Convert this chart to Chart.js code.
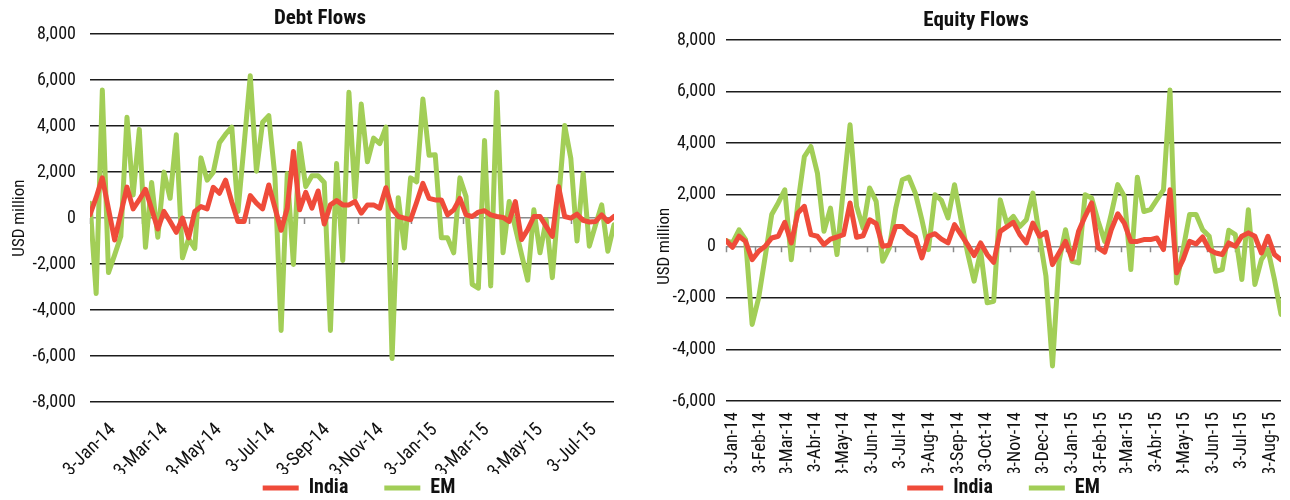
<!DOCTYPE html>
<html>
<head>
<meta charset="utf-8">
<script src="https://cdn.jsdelivr.net/npm/chart.js@4.4.0/dist/chart.umd.min.js"></script>
<style>
html,body{margin:0;padding:0;background:#fff;overflow:hidden;width:1290px;height:500px}
#wrap{position:relative;width:1290px;height:500px;overflow:hidden;background:#fff}
.box{position:absolute;top:0}
#b1{left:0;width:640px;height:540px}
#b2{left:650px;width:640px;height:539px}
canvas{display:block}
</style>
</head>
<body>
<div id="wrap">
  <div class="box" id="b1"><canvas id="c1" width="640" height="540"></canvas></div>
  <div class="box" id="b2"><canvas id="c2" width="640" height="539"></canvas></div>
</div>
<script>
// Weekly observation dates
const weeks = [
 '2014-01-03','2014-01-10','2014-01-17','2014-01-24','2014-01-31',
 '2014-02-07','2014-02-14','2014-02-21','2014-02-28',
 '2014-03-07','2014-03-14','2014-03-21','2014-03-28',
 '2014-04-04','2014-04-11','2014-04-18','2014-04-25',
 '2014-05-02','2014-05-09','2014-05-16','2014-05-23','2014-05-30',
 '2014-06-06','2014-06-13','2014-06-20','2014-06-27',
 '2014-07-04','2014-07-11','2014-07-18','2014-07-25',
 '2014-08-01','2014-08-08','2014-08-15','2014-08-22','2014-08-29',
 '2014-09-05','2014-09-12','2014-09-19','2014-09-26',
 '2014-10-03','2014-10-10','2014-10-17','2014-10-24','2014-10-31',
 '2014-11-07','2014-11-14','2014-11-21','2014-11-28',
 '2014-12-05','2014-12-12','2014-12-19','2014-12-26',
 '2015-01-02','2015-01-09','2015-01-16','2015-01-23','2015-01-30',
 '2015-02-06','2015-02-13','2015-02-20','2015-02-27',
 '2015-03-06','2015-03-13','2015-03-20','2015-03-27',
 '2015-04-03','2015-04-10','2015-04-17','2015-04-24',
 '2015-05-01','2015-05-08','2015-05-15','2015-05-22','2015-05-29',
 '2015-06-05','2015-06-12','2015-06-19','2015-06-26',
 '2015-07-03','2015-07-10','2015-07-17','2015-07-24','2015-07-31',
 '2015-08-07','2015-08-14','2015-08-21'
];

// Debt flows (USD million)
const debtIndia = [150,900,1750,400,-950,200,1350,400,800,1250,400,-475,290,-150,-620,0,-860,290,500,400,
 1340,1080,1650,700,-145,-145,980,650,400,1440,450,-530,430,2900,360,1120,430,1180,-260,575,
 760,575,575,720,215,575,575,430,1320,400,70,0,-70,700,1510,860,790,790,140,360,
 860,140,70,260,320,140,70,30,-145,720,-935,-500,70,70,-360,-790,1370,70,0,170,
 -100,-170,-145,140,-145,70];
const debtEM = [650,-3280,5570,-2370,-1600,-790,4390,1000,3860,-1270,1550,-835,2000,860,3630,-1730,-900,-1320,2620,1650,
 2000,3280,3650,3960,290,3200,6190,2040,4170,4460,1800,-4890,1940,-2015,3240,1370,1840,1840,1550,-4890,
 2370,-1840,5470,890,4960,2450,3480,3240,3960,-6110,890,-1300,1750,1580,5180,2730,2760,-860,-860,-1510,
 1750,935,-2880,-3050,3380,-2950,5470,-1510,720,-430,-1580,-2700,360,-1510,-70,-2590,720,4030,2590,-1000,
 1940,-1220,-300,575,-1440,-290];

// Equity flows (USD million)
const eqIndia = [220,-40,390,190,-520,-190,0,320,390,930,130,1290,1550,450,390,65,280,360,450,1680,
 350,410,1030,880,0,40,770,770,520,360,-450,390,490,280,130,840,450,65,-360,130,
 -320,-620,580,750,930,450,130,900,390,540,-710,-260,190,-490,580,1160,1680,-65,-230,640,
 1260,900,190,190,260,260,320,-130,2190,-1030,-520,190,90,360,-130,-260,-320,130,0,390,
 520,390,-260,390,-320,-520];
const eqEM = [220,130,640,260,-3030,-2000,-400,1230,1680,2190,-520,1650,3480,3870,2840,580,1480,-320,2300,4710,
 1550,710,2260,1740,-580,-65,1480,2580,2680,2060,1030,-130,2000,1780,1100,2390,1030,-260,-1350,-190,
 -2190,-2130,1800,900,1160,770,1030,2060,400,-1160,-4640,-580,640,-580,-645,2000,1870,970,190,1250,
 2390,1940,-900,2680,1350,1420,1810,2190,6060,-1420,-130,1230,1230,640,390,-970,-900,620,450,-1290,
 1420,-1480,-520,-130,-1290,-2640];

// Axis tick dates and labels
const debtTickDates = ['2014-01-03','2014-03-03','2014-05-03','2014-07-03','2014-09-03','2014-11-03',
 '2015-01-03','2015-03-03','2015-05-03','2015-07-03'];
const debtTickLabels = ['3-Jan-14','3-Mar-14','3-May-14','3-Jul-14','3-Sep-14','3-Nov-14',
 '3-Jan-15','3-Mar-15','3-May-15','3-Jul-15'];
const eqTickDates = ['2014-01-03','2014-02-03','2014-03-03','2014-04-03','2014-05-03','2014-06-03','2014-07-03',
 '2014-08-03','2014-09-03','2014-10-03','2014-11-03','2014-12-03','2015-01-03','2015-02-03','2015-03-03',
 '2015-04-03','2015-05-03','2015-06-03','2015-07-03','2015-08-03'];
const eqTickLabels = ['3-Jan-14','3-Feb-14','3-Mar-14','3-Abr-14','3-May-14','3-Jun-14','3-Jul-14',
 '3-Aug-14','3-Sep-14','3-Oct-14','3-Nov-14','3-Dec-14','3-Jan-15','3-Feb-15','3-Mar-15',
 '3-Abr-15','3-May-15','3-Jun-15','3-Jul-15','3-Aug-15'];

const seriesNames = ['India','EM'];

const RED = '#EF4B3A';
const GREEN = '#A2CE57';
const FONT = "'Roboto Condensed','Open Sans',sans-serif";

const t0 = Date.parse(weeks[0]);
const dayOf = s => (Date.parse(s) - t0) / 864e5;
const lastDay = dayOf(weeks[weeks.length - 1]);
const pts = arr => arr.map((v, i) => ({x: dayOf(weeks[i]), y: v}));

const axisDecor = {
  id: 'axisDecor',
  afterLayout(chart, args, opts) {
    const lg = chart.legend;
    if (lg && opts.legendTop != null) {
      const dy = opts.legendTop - lg.top;
      lg.top += dy; lg.bottom += dy;
      lg.left += opts.legendDx; lg.right += opts.legendDx;
    }
  },
  beforeDatasetsDraw(chart, args, opts) {
    const {ctx} = chart;
    const x = chart.scales.x, y = chart.scales.y;
    const y0 = y.getPixelForValue(0);
    ctx.save();
    ctx.strokeStyle = '#8a8a8a';
    ctx.lineWidth = 1.5;
    ctx.beginPath();
    x.ticks.forEach(t => {
      const px = Math.round(x.getPixelForValue(t.value)) + 0.5;
      ctx.moveTo(px, y0);
      ctx.lineTo(px, y0 + 6);
    });
    ctx.stroke();
    ctx.restore();
  },
  afterDraw(chart, args, opts) {
    const {ctx} = chart;
    const y = chart.scales.y;
    ctx.save();
    ctx.translate(opts.x, y.getPixelForValue(0));
    ctx.rotate(-Math.PI / 2);
    ctx.font = opts.font;
    ctx.fillStyle = '#111';
    ctx.textAlign = 'center';
    ctx.textBaseline = 'middle';
    ctx.fillText(opts.text, 0, 0);
    ctx.restore();
  }
};

function makeChart(id, cfg) {
  const ds = (label, vals, color) => ({
    label, data: pts(vals), borderColor: color, backgroundColor: color,
    borderWidth: 5, pointRadius: 0, tension: 0,
    borderJoinStyle: 'round', borderCapStyle: 'round', fill: false
  });
  return new Chart(document.getElementById(id), {
    type: 'line',
    data: { datasets: [ ds(seriesNames[0], cfg.india, RED), ds(seriesNames[1], cfg.em, GREEN) ] },
    plugins: [axisDecor],
    options: {
      responsive: false,
      animation: false,
      events: [],
      layout: { padding: cfg.pad },
      scales: {
        x: {
          type: 'linear', min: 0, max: lastDay,
          grid: { display: false }, border: { display: false },
          afterBuildTicks: s => { s.ticks = cfg.tickDates.map(d => ({ value: dayOf(d) })); },
          afterFit: s => { s.height = 72; },
          ticks: {
            autoSkip: false, minRotation: cfg.rot, maxRotation: cfg.rot,
            labelOffset: cfg.labelOffset, padding: cfg.xPad,
            font: { family: FONT, size: cfg.xFont }, color: '#111',
            callback: (v, i) => cfg.tickLabels[i]
          }
        },
        y: {
          min: cfg.ymin, max: cfg.ymax,
          afterFit: s => { s.width = cfg.yWidth; },
          border: { display: false },
          grid: {
            drawTicks: false, lineWidth: 1.5,
            color: c => (c.tick && c.tick.value === 0) ? '#8a8a8a' : '#1c1c1c'
          },
          ticks: {
            stepSize: 2000, padding: cfg.yPad,
            font: { family: FONT, size: 18 }, color: '#111',
            callback: v => v.toLocaleString('en-US')
          }
        }
      },
      plugins: {
        tooltip: { enabled: false },
        title: {
          display: true, text: cfg.title, color: '#111',
          font: { family: FONT, size: 21, weight: 'bold' },
          padding: cfg.titlePad
        },
        legend: {
          position: 'bottom', fullSize: false,
          labels: {
            usePointStyle: true, pointStyle: 'line', pointStyleWidth: 36,
            padding: 36, color: '#111',
            font: { family: FONT, size: 20, weight: 'bold' }
          }
        },
        axisDecor: { x: cfg.yTitleX, text: 'USD million', font: '17px ' + FONT,
                     legendTop: 442, legendDx: cfg.legendDx }
      }
    }
  });
}

makeChart('c1', {
  title: 'Debt Flows', india: debtIndia, em: debtEM,
  tickDates: debtTickDates, tickLabels: debtTickLabels,
  pad: { left: 26, right: 26, top: 0, bottom: 0 },
  yWidth: 64, yPad: 14, ymin: -8000, ymax: 8000,
  rot: 45, labelOffset: 23, xPad: 9, xFont: 19,
  titlePad: { top: 6, bottom: 3 }, yTitleX: 19.5, legendDx: 7
});

makeChart('c2', {
  title: 'Equity Flows', india: eqIndia, em: eqEM,
  tickDates: eqTickDates, tickLabels: eqTickLabels,
  pad: { left: 21, right: 9, top: 0, bottom: 0 },
  yWidth: 55, yPad: 10, ymin: -6000, ymax: 8000,
  rot: 90, labelOffset: 6, xPad: 3, xFont: 18,
  titlePad: { top: 8, bottom: 6.8 }, yTitleX: 15, legendDx: 0
});
</script>
</body>
</html>
